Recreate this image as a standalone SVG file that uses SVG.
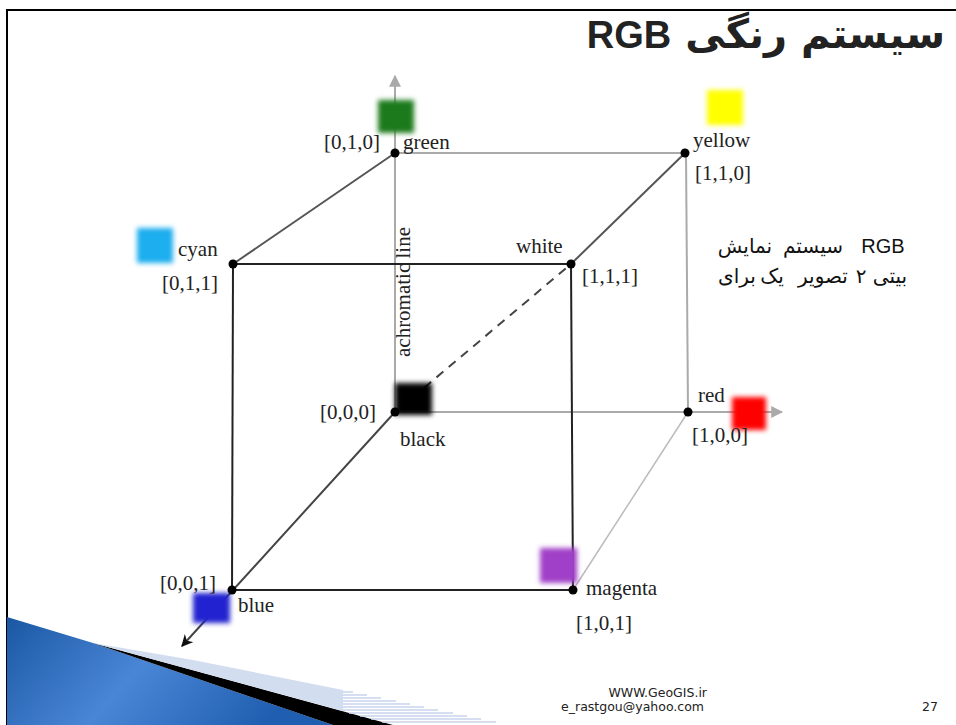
<svg xmlns="http://www.w3.org/2000/svg" width="956" height="725" viewBox="0 0 956 725">
<style>
.lbl{font-family:"Liberation Serif","Times New Roman",serif;font-size:21px;fill:#222}
.front{stroke:#222;stroke-width:2;fill:none}
.back{stroke:#aaa;stroke-width:2;fill:none}
.mid{stroke:#555;stroke-width:2;fill:none}
.dot{fill:#000}
.sq{filter:url(#blur)}
.stripe{stroke:#c9d5ee;stroke-width:1.5}
.note{font-family:"Liberation Sans","DejaVu Sans",sans-serif;font-size:20px;fill:#111;text-anchor:middle}
</style>
<defs>
<filter id="blur" x="-30%" y="-30%" width="160%" height="160%"><feGaussianBlur stdDeviation="2.5"/></filter>
<marker id="ag" viewBox="0 0 10 10" refX="9" refY="5" markerWidth="6" markerHeight="6" orient="auto" markerUnits="strokeWidth"><path d="M0,0 L10,5 L0,10 Z" fill="#aaa"/></marker>
<marker id="ab" viewBox="0 0 10 10" refX="9" refY="5" markerWidth="6" markerHeight="6" orient="auto" markerUnits="strokeWidth"><path d="M0,0 L10,5 L0,10 L3,5 Z" fill="#111"/></marker>
<linearGradient id="bg" x1="0" y1="0" x2="1" y2="0.3"><stop offset="0" stop-color="#1a57a3"/><stop offset="0.5" stop-color="#4a86d6"/><stop offset="1" stop-color="#1f5eb0"/></linearGradient>
</defs>
<rect width="956" height="725" fill="#fff"/>
<path d="M7,725 V10 H956" fill="none" stroke="#000" stroke-width="2"/>

<g id="decoration">
<polygon points="7,617 93,643 333,725 7,725" fill="url(#bg)"/>
<polygon points="93,643 393,725 333,725" fill="#000"/>
<polygon points="93,643 193,660 343,690 343,711" fill="#d3ddf0"/>
<line class="stripe" x1="343" y1="692" x2="353" y2="692"/>
<line class="stripe" x1="343" y1="695" x2="367" y2="695"/>
<line class="stripe" x1="343" y1="698" x2="381" y2="698"/>
<line class="stripe" x1="343" y1="701" x2="396" y2="701"/>
<line class="stripe" x1="343" y1="704" x2="410" y2="704"/>
<line class="stripe" x1="343" y1="707" x2="424" y2="707"/>
<line class="stripe" x1="343" y1="710" x2="438" y2="710"/>
<line class="stripe" x1="349" y1="713" x2="453" y2="713"/>
<line class="stripe" x1="360" y1="716" x2="467" y2="716"/>
<line class="stripe" x1="371" y1="719" x2="481" y2="719"/>
<line class="stripe" x1="382" y1="722" x2="496" y2="722"/>
</g>

<text id="title" x="945" y="48" direction="rtl" text-anchor="start" font-family="DejaVu Sans, sans-serif" font-weight="bold" font-size="40" fill="#222">سیستم رنگی <tspan font-family="Liberation Sans, sans-serif" font-size="38">RGB</tspan></text>

<g id="connectors">
<line class="back" x1="395" y1="412" x2="395" y2="76" marker-end="url(#ag)"/>
<line class="back" x1="395" y1="412" x2="782" y2="412" marker-end="url(#ag)"/>
<line class="back" x1="395" y1="153" x2="685" y2="153"/>
<line class="back" x1="686" y1="153" x2="688" y2="412"/>
<line stroke="#bbb" stroke-width="1.5" x1="688" y1="412" x2="573" y2="590"/>
<line class="mid" x1="395" y1="153" x2="233" y2="264"/>
<line class="mid" x1="685" y1="153" x2="571" y2="264"/>
<line stroke="#444" stroke-width="2" x1="395" y1="412" x2="182" y2="646" marker-end="url(#ab)"/>
<line stroke="#444" stroke-width="2" stroke-dasharray="9,7" x1="412" y1="398" x2="571" y2="264"/>
<line class="front" x1="233" y1="264" x2="571" y2="264"/>
<line class="front" x1="571" y1="264" x2="573" y2="590"/>
<line class="front" x1="573" y1="590" x2="232" y2="590"/>
<line class="front" x1="232" y1="590" x2="233" y2="264"/>
</g>

<g id="green">
<rect class="sq" x="378" y="100" width="36" height="33" fill="#1e7a1e"/>
<circle class="dot" cx="395" cy="153" r="4.5"/>
<text class="lbl" x="380" y="149" text-anchor="end">[0,1,0]</text>
<text class="lbl" x="403" y="149">green</text>
</g>
<g id="yellow">
<rect class="sq" x="707" y="90" width="36" height="35" fill="#ffff00"/>
<circle class="dot" cx="685" cy="153" r="4.5"/>
<text class="lbl" x="693" y="147">yellow</text>
<text class="lbl" x="695" y="180">[1,1,0]</text>
</g>
<g id="cyan">
<rect class="sq" x="137" y="228" width="36" height="35" fill="#1aaeee"/>
<circle class="dot" cx="233" cy="264" r="4.5"/>
<text class="lbl" x="178" y="256">cyan</text>
<text class="lbl" x="162" y="290">[0,1,1]</text>
</g>
<g id="white">
<circle class="dot" cx="571" cy="264" r="4.5"/>
<text class="lbl" x="516" y="253">white</text>
<text class="lbl" x="582" y="283">[1,1,1]</text>
</g>
<g id="black">
<rect class="sq" x="395" y="383" width="37" height="32" fill="#000"/>
<circle class="dot" cx="395" cy="412" r="4.5"/>
<text class="lbl" x="320" y="419">[0,0,0]</text>
<text class="lbl" x="400" y="446">black</text>
<text class="lbl" transform="translate(410,292) rotate(-90)" text-anchor="middle">achromatic line</text>
</g>
<g id="red">
<rect class="sq" x="732" y="397" width="34" height="33" fill="#ff0000"/>
<circle class="dot" cx="688" cy="412" r="4.5"/>
<text class="lbl" x="698" y="402">red</text>
<text class="lbl" x="692" y="442">[1,0,0]</text>
</g>
<g id="blue">
<rect class="sq" x="193" y="593" width="37" height="30" fill="#2020d0"/>
<circle class="dot" cx="232" cy="590" r="4.5"/>
<text class="lbl" x="160" y="590">[0,0,1]</text>
<text class="lbl" x="238" y="612">blue</text>
</g>
<g id="magenta">
<rect class="sq" x="540" y="548" width="37" height="35" fill="#a040c8"/>
<circle class="dot" cx="573" cy="590" r="4.5"/>
<text class="lbl" x="586" y="595">magenta</text>
<text class="lbl" x="576" y="630">[1,0,1]</text>
</g>

<g id="note">
<text class="note" x="745" y="253">نمایش</text>
<text class="note" x="813" y="253">سیستم</text>
<text class="note" x="883" y="253">RGB</text>
<text class="note" x="737" y="283">برای</text>
<text class="note" x="772" y="283">یک</text>
<text class="note" x="823" y="283">تصویر</text>
<text class="note" x="861" y="283">۲</text>
<text class="note" x="890" y="283">بیتی</text>
</g>

<g id="footer" font-family="DejaVu Sans, Verdana, sans-serif" font-size="12.5" fill="#222">
<text x="707" y="697" text-anchor="end">WWW.GeoGIS.ir</text>
<text x="704" y="711" text-anchor="end">e_rastgou@yahoo.com</text>
<text x="938" y="711" text-anchor="end">27</text>
</g>
</svg>
